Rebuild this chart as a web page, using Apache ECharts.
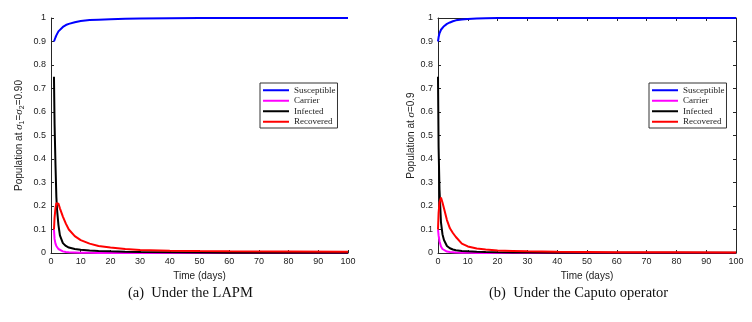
<!DOCTYPE html>
<html>
<head>
<meta charset="utf-8">
<script src="https://cdn.jsdelivr.net/npm/echarts@6/dist/echarts.min.js"></script>
<style>
  html, body { margin: 0; padding: 0; background: #fff; }
  #chart { width: 752px; height: 322px; }
</style>
</head>
<body>
<div id="chart"></div>
<script>
// (a) LAPM, sigma1 = sigma2 = 0.90
const lapmTime = [1, 1.2, 1.5, 1.8, 2, 2.5, 3, 4, 5, 6, 8, 10, 13, 16, 20, 25, 30, 40, 50, 60, 80, 100];
const lapmSusceptible = [0.9, 0.907, 0.917, 0.926, 0.932, 0.943, 0.951, 0.962, 0.97, 0.975, 0.982, 0.987, 0.991, 0.993, 0.995, 0.997, 0.998, 0.999, 0.9995, 1, 1, 1];
const lapmCarrier = [0.1, 0.06, 0.04, 0.03, 0.025, 0.017, 0.012, 0.007, 0.004, 0.003, 0.002, 0.001, 0.001, 0, 0, 0, 0, 0, 0, 0, 0, 0];
const lapmInfected = [0.75, 0.55, 0.38, 0.24, 0.19, 0.12, 0.075, 0.042, 0.03, 0.023, 0.017, 0.014, 0.011, 0.009, 0.007, 0.005, 0.004, 0.003, 0.002, 0.0015, 0.001, 0.001];
const lapmRecovered = [0.1, 0.15, 0.19, 0.212, 0.218, 0.21, 0.19, 0.155, 0.125, 0.1, 0.072, 0.055, 0.04, 0.03, 0.023, 0.017, 0.013, 0.01, 0.008, 0.007, 0.006, 0.005];

// (b) Caputo, sigma = 0.9
const caputoTime = [0, 0.2, 0.5, 1, 1.5, 2, 3, 4, 5, 6, 8, 10, 13, 16, 20, 25, 30, 40, 50, 60, 80, 100];
const caputoSusceptible = [0.9, 0.918, 0.935, 0.95, 0.958, 0.965, 0.975, 0.981, 0.986, 0.99, 0.994, 0.996, 0.998, 0.999, 0.9995, 1, 1, 1, 1, 1, 1, 1];
const caputoCarrier = [0.1, 0.075, 0.05, 0.028, 0.017, 0.011, 0.006, 0.004, 0.003, 0.002, 0.001, 0.001, 0, 0, 0, 0, 0, 0, 0, 0, 0, 0];
const caputoInfected = [0.75, 0.45, 0.27, 0.13, 0.08, 0.055, 0.03, 0.02, 0.015, 0.012, 0.009, 0.007, 0.005, 0.004, 0.003, 0.0025, 0.002, 0.0015, 0.001, 0.001, 0.001, 0.001];
const caputoRecovered = [0.1, 0.17, 0.215, 0.236, 0.215, 0.19, 0.14, 0.105, 0.085, 0.068, 0.04, 0.028, 0.019, 0.015, 0.011, 0.009, 0.007, 0.005, 0.004, 0.003, 0.003, 0.002];

const seriesNames = ['Susceptible', 'Carrier', 'Infected', 'Recovered'];
const seriesColors = ['#0000ff', '#ff00ff', '#000000', '#ff0000'];
const captions = ['(a)  Under the LAPM', '(b)  Under the Caputo operator'];

const axisColor = '#262626';
const sans = 'Liberation Sans';
const serif = 'Liberation Serif';

function pairs(time, values) {
  return time.map((t, i) => [t, values[i]]);
}

function makeSeries(gridIdx, time, lists) {
  return lists.map((values, i) => ({
    name: seriesNames[i],
    type: 'line',
    xAxisIndex: gridIdx,
    yAxisIndex: gridIdx,
    data: pairs(time, values),
    showSymbol: false,
    color: seriesColors[i],
    lineStyle: { width: 2, color: seriesColors[i] },
    z: 2 + i
  }));
}

function xAxis(gridIndex, extra) {
  return Object.assign({
    type: 'value', gridIndex, min: 0, max: 100, interval: 10,
    axisLine: { onZero: false, lineStyle: { color: axisColor, width: 1 } },
    axisTick: { inside: true, length: 3, lineStyle: { color: axisColor } },
    axisLabel: { fontFamily: sans, fontSize: 9, color: '#222', margin: 4 },
    splitLine: { show: false },
    name: 'Time (days)', nameLocation: 'middle', nameGap: 18,
    nameTextStyle: { fontFamily: sans, fontSize: 10, color: '#222' }
  }, extra);
}

function yAxis(gridIndex, extra) {
  return Object.assign({
    type: 'value', gridIndex, min: 0, max: 1, interval: 0.1,
    axisLine: { show: true, onZero: false, lineStyle: { color: axisColor, width: 1 } },
    axisTick: { show: true, inside: true, length: 3, lineStyle: { color: axisColor } },
    axisLabel: {
      fontFamily: sans, fontSize: 9, color: '#222', margin: 5,
      formatter: (v) => String(+v.toFixed(1))
    },
    splitLine: { show: false },
    nameLocation: 'middle', nameRotate: 90
  }, extra);
}

const nameRich = {
  n: { fontFamily: sans, fontSize: 10, color: '#222' },
  s: { fontFamily: serif, fontStyle: 'italic', fontSize: 11, color: '#222' },
  sub: { fontFamily: sans, fontSize: 7, color: '#222', padding: [7, 0, 0, 0] }
};

function legend(left) {
  return {
    left, top: 83, orient: 'vertical',
    data: seriesNames,
    icon: 'rect', itemWidth: 26, itemHeight: 2, itemGap: 0,
    padding: [2, 2, 1, 3],
    borderColor: '#333', borderWidth: 1, backgroundColor: '#fff',
    textStyle: { fontFamily: serif, fontSize: 9, lineHeight: 10.5, color: '#222' },
    selectedMode: false
  };
}

const chart = echarts.init(document.getElementById('chart'), null, { renderer: 'canvas' });

chart.setOption({
  animation: false,
  backgroundColor: '#fff',
  grid: [
    { left: 51, top: 18, width: 297, height: 235 },
    { left: 438, top: 18, width: 298, height: 235 }
  ],
  xAxis: [
    xAxis(0),
    xAxis(1),
    xAxis(1, { position: 'top', name: '', axisLabel: { show: false } })
  ],
  yAxis: [
    yAxis(0, {
      name: '{n|Population at }{s|σ}{sub|1}{n|=}{s|σ}{sub|2}{n|=0.90}',
      nameGap: 25,
      nameTextStyle: { rich: nameRich }
    }),
    yAxis(1, {
      name: '{n|Population at }{s|σ}{n|=0.9}',
      nameGap: 21,
      nameTextStyle: { rich: nameRich }
    }),
    yAxis(1, { position: 'right', name: '', axisLabel: { show: false } })
  ],
  legend: [legend(260), legend(649)],
  series: [
    ...makeSeries(0, lapmTime, [lapmSusceptible, lapmCarrier, lapmInfected, lapmRecovered]),
    ...makeSeries(1, caputoTime, [caputoSusceptible, caputoCarrier, caputoInfected, caputoRecovered])
  ],
  graphic: [
    {
      type: 'text', left: 192 - 64, top: 286,
      style: { text: captions[0], fontFamily: serif, fontSize: 14.5, fill: '#111' }
    },
    {
      type: 'text', left: 581 - 92, top: 286,
      style: { text: captions[1], fontFamily: serif, fontSize: 14.5, fill: '#111' }
    }
  ]
});
</script>
</body>
</html>
